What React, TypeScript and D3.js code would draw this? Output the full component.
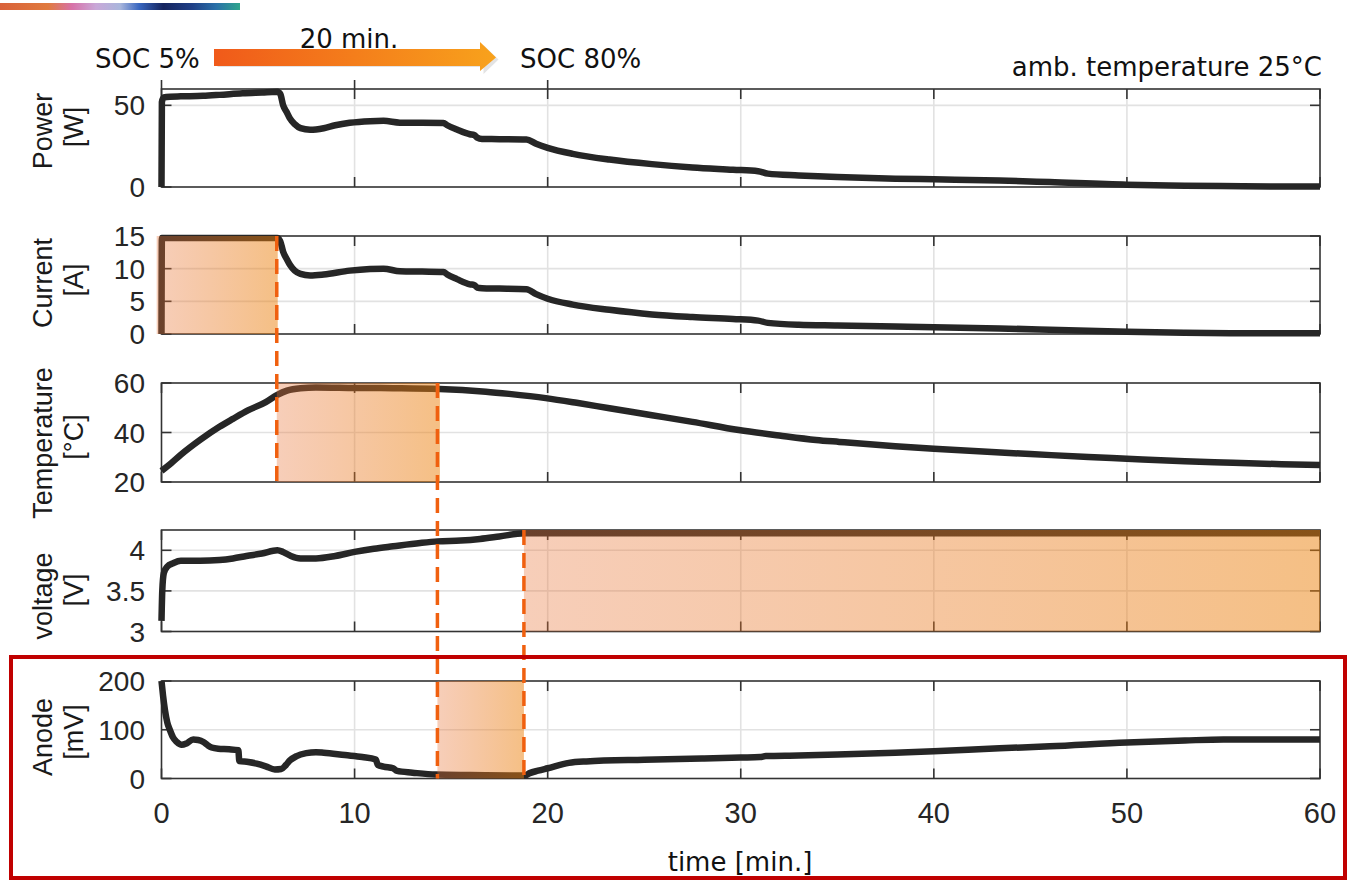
import React from 'react';
import * as d3 from 'd3';

// ---------- data ----------
const xTicks = [0, 10, 20, 30, 40, 50, 60];

const powerData: [number, number][] = [
  [0, 0], [0.02, 52], [0.12, 54.8], [0.44, 55.3], [1, 55.5], [2.15, 55.8], [3, 56.4], [4.2, 57.4],
  [5.2, 57.9], [6.0, 58.3], [6.15, 57], [6.3, 50], [6.5, 45.5], [6.65, 42], [6.9, 38.5], [7.2, 36],
  [7.7, 35], [8.4, 36], [9.0, 37.8], [9.75, 39.3], [10.8, 40.3], [11.5, 40.5], [12.35, 39.4],
  [13.5, 39.3], [14.6, 39.2], [14.8, 37.8], [15.3, 35.2], [15.97, 32.3], [16.2, 31.8], [16.35, 30.2],
  [16.6, 29.4], [17.5, 29.3], [18.9, 29.1], [19.4, 26.5], [20, 24], [21.3, 20.3], [23.2, 16.8],
  [25.4, 14], [27.5, 12], [29.6, 10.6], [30.9, 9.7], [31.4, 8.2], [33, 7.1], [35, 6.1], [38, 5.1],
  [40, 4.7], [43.4, 4.0], [46, 3.0], [50, 1.4], [53, 0.8], [56, 0.45], [60, 0.3],
];

const currentData: [number, number][] = [
  [0, 0], [0.02, 14.7], [6.0, 14.7], [6.15, 14.2], [6.3, 12.6], [6.5, 11.4], [6.65, 10.6], [6.9, 9.7],
  [7.2, 9.2], [7.7, 8.95], [8.4, 9.1], [9.75, 9.7], [10.8, 9.95], [11.5, 10], [12.35, 9.6], [13.5, 9.55],
  [14.6, 9.5], [14.8, 9.1], [15.3, 8.4], [15.97, 7.6], [16.2, 7.5], [16.35, 7.1], [16.6, 7.0],
  [17.5, 6.95], [18.9, 6.85], [19.4, 6.1], [20, 5.4], [21.3, 4.5], [23.2, 3.7], [25.4, 3.0],
  [27.5, 2.6], [29.6, 2.3], [30.9, 2.05], [31.4, 1.7], [33, 1.4], [35, 1.3], [38, 1.15], [40, 1.05],
  [43.4, 0.85], [46, 0.65], [50, 0.35], [53, 0.2], [56, 0.12], [60, 0.1],
];

const temperatureData: [number, number][] = [
  [0, 24.5], [0.5, 27.6], [1, 31], [2, 37], [3, 42.3], [3.7, 45.5], [4.5, 49], [5.4, 52.3], [6, 55.2],
  [6.5, 56.9], [7.2, 57.9], [8, 58.2], [10, 58], [12, 57.9], [14.4, 57.6], [16.8, 56.5], [18, 55.6],
  [19.9, 53.9], [21.5, 52], [23.2, 49.8], [25.4, 47], [27.5, 44.3], [29.9, 41], [32, 38.8],
  [33.9, 37], [35.1, 36.2], [38, 34.4], [40, 33.4], [43, 32.1], [45, 31.3], [48, 30.1], [50, 29.4],
  [53, 28.4], [55, 27.9], [58, 27.2], [60, 26.9],
];

const voltageData: [number, number][] = [
  [0, 3.13], [0.04, 3.5], [0.12, 3.72], [0.3, 3.8], [0.6, 3.84], [1, 3.87], [2, 3.87], [3, 3.88],
  [3.7, 3.9], [4.4, 3.93], [5.2, 3.96], [6, 4.0], [6.3, 3.98], [6.7, 3.93], [7.2, 3.9], [8, 3.9],
  [9, 3.93], [10, 3.98], [11, 4.02], [12, 4.05], [13.4, 4.09], [14.3, 4.11], [15.5, 4.12],
  [16.5, 4.14], [17.5, 4.17], [18.8, 4.21], [60, 4.21],
];

const anodeData: [number, number][] = [
  [0, 200], [0.08, 170], [0.18, 140], [0.3, 115], [0.44, 99], [0.6, 84], [0.79, 75], [1.04, 69],
  [1.3, 72], [1.64, 80], [1.9, 79], [2.17, 75], [2.4, 68], [2.6, 63.5], [2.94, 61], [3.5, 60],
  [3.98, 58], [4.03, 36], [4.5, 34], [4.93, 30.5], [5.4, 25], [5.87, 18.5], [6.2, 19.5], [6.45, 28],
  [6.65, 37], [7, 46], [7.5, 52], [8, 54], [8.4, 53], [9.5, 48], [10.4, 44], [11.1, 39], [11.2, 28],
  [11.5, 24.5], [12, 21], [12.2, 15.5], [13, 12], [14.2, 8], [16, 7], [18.8, 6], [19.07, 11],
  [19.5, 16], [20, 21], [21.1, 32], [22, 35], [25, 38.5], [28, 41], [30, 43], [31, 44], [31.3, 46],
  [33, 47], [35, 49], [38, 53], [40, 56], [43.4, 62], [46, 66], [50, 74], [53, 78], [55, 80], [60, 80],
];

const powerTicks = [0, 50];
const currentTicks = [0, 5, 10, 15];
const temperatureTicks = [20, 40, 60];
const voltageTicks = [3, 3.5, 4];
const anodeTicks = [0, 100, 200];

// shaded time intervals [start, end] in minutes
const shadeCurrent: [number, number] = [-0.25, 6.02];
const shadeTemperature: [number, number] = [5.97, 14.42];
const shadeAnode: [number, number] = [14.29, 18.77];
const shadeVoltage: [number, number] = [18.77, 60];

// dashed markers (time)
const dashTimes = [5.97, 14.29, 18.77];

// ---------- layout ----------
const W = 1349;
const H = 882;
const X0 = 161.5;
const X1 = 1320;

const x = d3.scaleLinear().domain([0, 60]).range([X0, X1]);

type Panel = {
  name: string; unit: string; data: [number, number][]; domain: [number, number];
  ticks: number[]; top: number; bottom: number; nameY: number; unitY: number;
  shade: [number, number] | null;
};

const panels: Panel[] = [
  { name: 'Power', unit: '[W]', data: powerData, domain: [0, 60], ticks: powerTicks, top: 89, bottom: 187, nameY: 131, unitY: 127, shade: null },
  { name: 'Current', unit: '[A]', data: currentData, domain: [0, 15], ticks: currentTicks, top: 236, bottom: 334, nameY: 283, unitY: 280, shade: shadeCurrent },
  { name: 'Temperature', unit: '[°C]', data: temperatureData, domain: [20, 60], ticks: temperatureTicks, top: 383, bottom: 482, nameY: 443, unitY: 437, shade: shadeTemperature },
  { name: 'voltage', unit: '[V]', data: voltageData, domain: [3, 4.25], ticks: voltageTicks, top: 530, bottom: 631.5, nameY: 596, unitY: 590, shade: shadeVoltage },
  { name: 'Anode', unit: '[mV]', data: anodeData, domain: [0, 200], ticks: anodeTicks, top: 681, bottom: 778.5, nameY: 737, unitY: 732, shade: shadeAnode },
];

const dashSpans: [number, number][] = [
  [panels[1].top, panels[2].bottom],
  [panels[2].top, panels[4].bottom],
  [panels[3].top, panels[4].bottom],
];

const AX = '#333333';
const GRID = '#e2e2e2';
const LINE = '#262626';
const DASH = '#f0600f';
const TICKFONT = "'Liberation Sans', Arial, Helvetica, sans-serif";
const TXTFONT = "'DejaVu Sans', Verdana, sans-serif";

function PanelView({ p, idx }: { p: Panel; idx: number }) {
  const y = d3.scaleLinear().domain(p.domain).range([p.bottom, p.top]);
  const line = d3.line<[number, number]>()
    .x(d => x(d[0]))
    .y(d => y(d[1]))
    .curve(d3.curveMonotoneX);
  const gridX = xTicks.filter(t => t > 0 && t < 60);
  const gridY = p.ticks.filter(v => y(v) > p.top + 1 && y(v) < p.bottom - 1);
  return (
    <g>
      {gridX.map(t => (
        <line key={'gx' + t} x1={x(t)} x2={x(t)} y1={p.top} y2={p.bottom} stroke={GRID} strokeWidth={1.6} />
      ))}
      {gridY.map(v => (
        <line key={'gy' + v} x1={X0} x2={X1} y1={y(v)} y2={y(v)} stroke={GRID} strokeWidth={1.6} />
      ))}
      <rect x={X0} y={p.top} width={X1 - X0} height={p.bottom - p.top} fill="none" stroke={AX} strokeWidth={1.6} />
      {xTicks.map(t => (
        <g key={'xt' + t}>
          <line x1={x(t)} x2={x(t)} y1={p.top} y2={p.top + 10} stroke={AX} strokeWidth={1.6} />
          <line x1={x(t)} x2={x(t)} y1={p.bottom} y2={p.bottom - 10} stroke={AX} strokeWidth={1.6} />
        </g>
      ))}
      {idx === 0 && [0, 10, 20].map(t => (
        <line key={'ext' + t} x1={x(t)} x2={x(t)} y1={80} y2={p.top} stroke={AX} strokeWidth={1.6} />
      ))}
      {p.ticks.map(v => (
        <g key={'yt' + v}>
          <line x1={X0} x2={X0 + 10} y1={y(v)} y2={y(v)} stroke={AX} strokeWidth={1.6} />
          <line x1={X1} x2={X1 - 10} y1={y(v)} y2={y(v)} stroke={AX} strokeWidth={1.6} />
          <text x={145} y={y(v)} dy="0.36em" textAnchor="end" fontFamily={TICKFONT} fontSize={28} fill="#262626">
            {String(v)}
          </text>
        </g>
      ))}
      <path d={line(p.data) || ''} fill="none" stroke={LINE} strokeWidth={6.5} strokeLinejoin="round" />
      {p.shade && (
        <rect x={x(p.shade[0])} y={p.top} width={x(p.shade[1]) - x(p.shade[0])} height={p.bottom - p.top}
          fill="url(#shadeGrad)" />
      )}
      <text transform={`translate(52,${p.nameY}) rotate(-90)`} textAnchor="middle" fontFamily={TICKFONT} fontSize={27} fill="#1a1a1a">
        {p.name}
      </text>
      <text transform={`translate(83,${p.unitY}) rotate(-90)`} textAnchor="middle" fontFamily={TICKFONT} fontSize={27} fill="#1a1a1a">
        {p.unit}
      </text>
    </g>
  );
}

export default function App() {
  return (
    <svg width={W} height={H} style={{ position: 'absolute', left: 0, top: 0, background: '#fff' }}>
      <defs>
        <linearGradient id="shadeGrad" x1="0" x2="1" y1="0" y2="0">
          <stop offset="0%" stopColor="rgb(232,115,55)" stopOpacity={0.35} />
          <stop offset="100%" stopColor="rgb(235,128,10)" stopOpacity={0.5} />
        </linearGradient>
        <linearGradient id="arrowGrad" x1="0" x2="1" y1="0" y2="0">
          <stop offset="0%" stopColor="#f05a1a" />
          <stop offset="100%" stopColor="#f8a21c" />
        </linearGradient>
        <linearGradient id="barGrad" x1="0" x2="1" y1="0" y2="0">
          <stop offset="0%" stopColor="#d9623a" />
          <stop offset="20%" stopColor="#e07a3e" />
          <stop offset="30%" stopColor="#d772a8" />
          <stop offset="40%" stopColor="#c9a8d8" />
          <stop offset="50%" stopColor="#a9b6dc" />
          <stop offset="58%" stopColor="#3866c0" />
          <stop offset="68%" stopColor="#15245e" />
          <stop offset="80%" stopColor="#1f3f86" />
          <stop offset="90%" stopColor="#2a70a8" />
          <stop offset="100%" stopColor="#2fa58c" />
        </linearGradient>
      </defs>
      {/* decoration bar */}
      <rect x={0} y={3} width={240} height={7} fill="url(#barGrad)" />

      {/* header */}
      <polygon points="216,50 482,50 482,43 497,57.5 482,72 482,65 216,65" fill="#c8c8c8" opacity={0.5} transform="translate(1.5,2)" />
      <polygon points="214,49 480,49 480,42 496,57.5 480,71 480,66 214,66" fill="url(#arrowGrad)" />
      <text x={95} y={68} fontFamily={TXTFONT} fontSize={26} fill="#111">SOC 5%</text>
      <text x={349} y={48} textAnchor="middle" fontFamily={TXTFONT} fontSize={26} fill="#111">20 min.</text>
      <text x={520} y={68} fontFamily={TXTFONT} fontSize={26} fill="#111">SOC 80%</text>
      <text x={1322} y={76} textAnchor="end" fontFamily={TXTFONT} fontSize={26} fill="#111">amb. temperature 25°C</text>

      {panels.map((p, i) => <PanelView key={p.name} p={p} idx={i} />)}

      {dashTimes.map((t, i) => (
        <line key={'d' + i} x1={x(t)} x2={x(t)} y1={dashSpans[i][0]} y2={dashSpans[i][1]}
          stroke={DASH} strokeWidth={3.5} strokeDasharray="15 8" />
      ))}

      {/* x tick labels */}
      {xTicks.map(t => (
        <text key={'xl' + t} x={x(t)} y={823} textAnchor="middle" fontFamily={TICKFONT} fontSize={29} fill="#262626">
          {t}
        </text>
      ))}
      <text x={740} y={871} textAnchor="middle" fontFamily={TXTFONT} fontSize={26} fill="#111">time [min.]</text>

      {/* highlight frame */}
      <rect x={11} y={657} width={1334} height={221} fill="none" stroke="#c00000" strokeWidth={4} />
    </svg>
  );
}
